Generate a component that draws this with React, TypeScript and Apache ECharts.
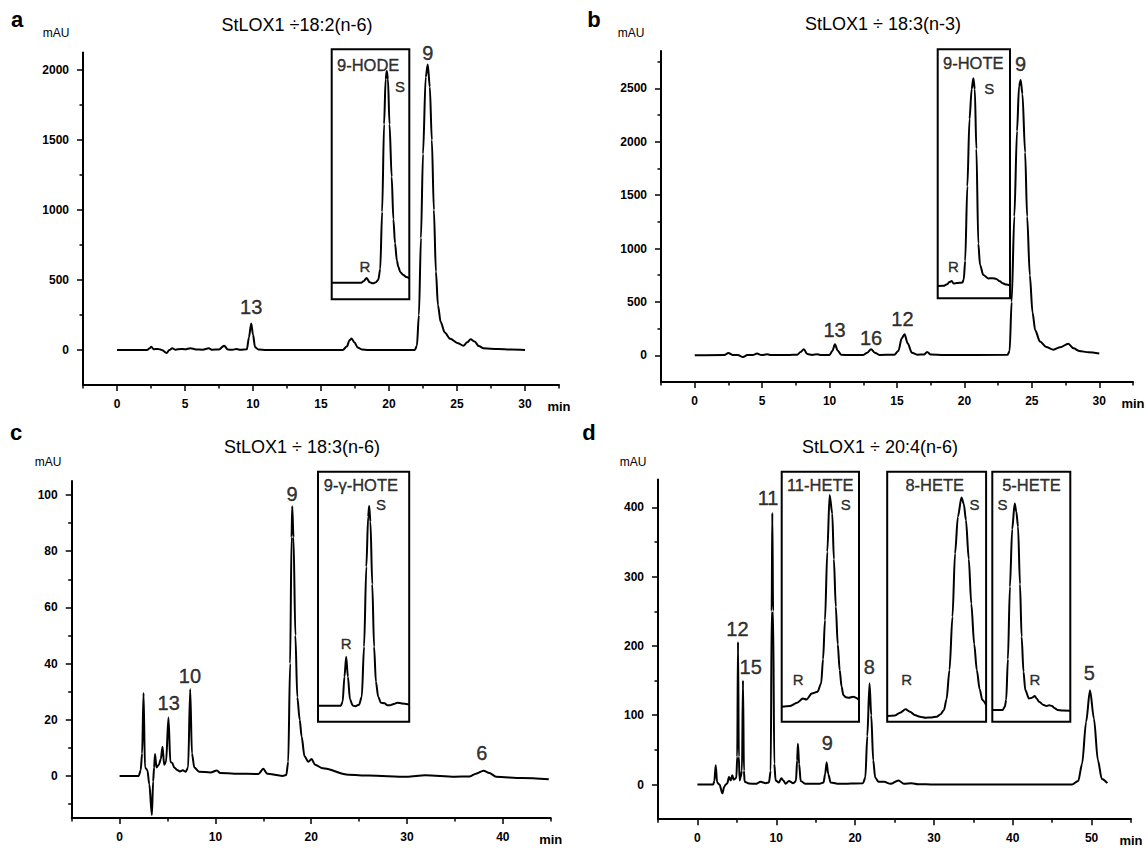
import React, { useEffect, useRef } from 'react';
import * as echarts from 'echarts';

const FONT = '"Liberation Sans", Arial, Helvetica, sans-serif';

// ---------- main chromatogram traces: [time (min), absorbance (mAU)] ----------
const traceA: number[][] = [
  [0, 0], [2.2, 0], [2.4, 12], [2.52, 24], [2.7, 5], [3.0, 8], [3.3, 0], [3.65, -22], [3.85, 0], [4.06, 12],
  [4.3, 2], [4.7, 8], [5.0, 5], [5.4, 13], [5.8, 4], [6.3, 2], [6.75, 12], [7.0, 2], [7.5, 4], [7.88, 31],
  [8.15, 3], [8.5, 2], [8.77, 7], [9.1, 1], [9.55, 5], [9.7, 90], [9.87, 190], [10.0, 110], [10.15, 20], [10.4, 3],
  [11, 0], [16.6, 0], [16.9, 25], [17.1, 70], [17.25, 83], [17.45, 55], [17.7, 18], [18.0, 4], [18.5, 0], [21.9, 0],
  [22.05, 30], [22.2, 250], [22.35, 800], [22.5, 1400], [22.7, 1950], [22.85, 2040], [23.0, 1880], [23.15, 1500],
  [23.3, 1000], [23.45, 560], [23.6, 320], [23.8, 200], [24.1, 125], [24.5, 80], [25.07, 48], [25.47, 30],
  [25.75, 55], [26.0, 76], [26.3, 60], [26.6, 28], [26.95, 12], [28, 7], [29, 3], [30, 0],
];

const traceB: number[][] = [
  [0, 0], [2.2, 3], [2.5, 22], [2.8, 4], [3.2, 2], [3.58, -16], [3.9, 2], [4.3, 3], [4.62, 16], [4.95, 3],
  [5.37, 9], [5.7, 2], [7.0, 3], [7.6, 6], [7.85, 30], [8.09, 56], [8.35, 12], [8.7, 4], [9.1, 9], [9.4, 3],
  [10.0, 4], [10.2, 40], [10.4, 103], [10.6, 45], [10.85, 6], [11.5, 2], [12.5, 3], [12.8, 25], [13.08, 56],
  [13.35, 25], [13.7, 4], [14.8, 5], [15.1, 40], [15.35, 160], [15.56, 197], [15.8, 110], [16.1, 25], [16.5, 6],
  [17.0, 8], [17.24, 31], [17.5, 8], [18.5, 2], [23.2, 5], [23.35, 40], [23.5, 500], [23.7, 1300], [23.9, 2100],
  [24.05, 2520], [24.17, 2578], [24.3, 2450], [24.5, 1900], [24.65, 1300], [24.85, 750], [25.05, 400],
  [25.25, 234], [25.6, 130], [26.06, 78], [26.6, 53], [27.1, 75], [27.7, 109], [28.1, 65], [28.5, 41],
  [29.2, 28], [30, 16],
];

const traceC: number[][] = [
  [0, 0], [2.0, 0], [2.2, 2], [2.35, 8], [2.5, 29.5], [2.65, 3], [2.9, 2], [3.1, -3], [3.37, -13.9], [3.5, -2],
  [3.6, 3], [3.7, 7.8], [3.85, 3], [4.1, 4], [4.3, 6], [4.48, 10.4], [4.65, 4], [4.85, 5], [5.1, 20.8], [5.3, 5],
  [5.5, 4.6], [5.7, 3], [6.0, 2.1], [6.3, 1.6], [6.6, 2], [6.9, 1.5], [7.15, 3], [7.37, 30.9], [7.55, 8], [7.8, 3],
  [8.3, 1.5], [9.5, 1.2], [10.15, 1.9], [10.5, 1.0], [12, 0.8], [14.5, 0.7], [15.0, 2.5], [15.4, 0.8], [17.0, 0],
  [17.4, 0.3], [17.6, 5], [17.8, 40], [17.95, 85], [18.02, 96], [18.15, 85], [18.35, 50], [18.55, 28], [18.8, 20],
  [19.0, 14], [19.3, 7], [19.7, 5], [20.04, 6], [20.4, 4], [21.2, 2.7], [23.9, 0.4], [26, 0.1], [30, -0.3],
  [31.9, 0.2], [35, -0.3], [36.5, -0.2], [37.2, 0.8], [38.0, 1.8], [38.6, 1], [39.3, -0.3], [42, -0.8], [44.8, -1.2],
];

const traceD: number[][] = [
  [0, 0], [2.0, 0], [2.15, 5], [2.32, 28], [2.5, 3], [2.8, 0], [3.17, -12.7], [3.4, -3], [3.59, 0], [3.8, 2],
  [4.0, 11], [4.22, 6], [4.43, 13.5], [4.6, 7], [4.73, 8], [4.94, 10], [5.05, 40], [5.15, 206], [5.25, 40],
  [5.36, 6], [5.49, 11], [5.65, 20], [5.78, 150], [5.9, 20], [5.99, 4], [6.54, 1.5], [7.39, 1], [8.02, 4],
  [8.66, 2], [9.07, 3], [9.3, 20], [9.42, 250], [9.5, 392], [9.6, 250], [9.75, 30], [9.92, 6], [10.34, 3],
  [10.64, 9], [10.9, 6], [11.19, 1], [11.6, 5], [12.17, 2], [12.5, 5], [12.65, 35], [12.75, 59], [12.9, 30],
  [13.1, 5], [13.73, 1], [15.5, 1], [16.0, 3], [16.2, 15], [16.39, 32], [16.6, 15], [16.9, 3], [18, 1],
  [21.0, 2], [21.3, 10], [21.55, 70], [21.83, 146], [22.05, 100], [22.3, 35], [22.55, 10], [22.98, 4],
  [23.68, 4], [24.5, 1], [25.5, 6], [26.2, 1], [27.16, 2], [28, 0.5], [30, 0], [47.5, 0], [48.3, 5],
  [48.8, 30], [49.3, 90], [49.8, 136], [50.3, 95], [50.8, 35], [51.3, 8], [52.0, 2],
];

// ---------- inset traces: [% of inset width, % of inset height] ----------
const insetTraceA: number[][] = [
  [0, 6.6], [38, 6.6], [41, 7.2], [45, 8.5], [49, 6.8], [53, 6.4], [57, 6.8], [60, 7.8], [62.5, 12], [65, 35],
  [67.5, 70], [69.5, 88], [71, 91.3], [72.5, 88], [74.5, 70], [77.3, 49], [79.5, 32], [81.6, 22.4], [84, 15.5],
  [85.8, 13], [88.5, 10.8], [92.3, 9.7], [96, 8.9], [100, 8.4],
];
const insetTraceB: number[][] = [
  [0, 4.9], [8, 5.0], [13, 5.6], [16, 6.5], [19.4, 6.9], [22, 5.9], [26, 6.1], [30, 6.2], [34, 6.3], [36, 7.5],
  [38, 15], [41, 45], [44, 72], [47, 84], [49.3, 88.4], [51.3, 84], [53.5, 60], [56.2, 22], [58.5, 13.5],
  [63, 9.4], [70, 8], [76, 8.1], [81, 7.8], [86, 6.8], [90, 6], [95, 5.5], [100, 5.2],
];
const insetTraceC: number[][] = [
  [0, 6.4], [25, 6.4], [27, 8], [29, 18], [30.9, 26], [32.8, 18], [35, 9], [38, 6.5], [41, 6.2], [45, 6.8],
  [48, 10], [50.5, 30], [53, 62], [55, 82], [56.1, 86.3], [57.5, 80], [59.5, 55], [61.5, 30], [63.5, 16],
  [66, 10], [69, 7.6], [73, 7.4], [76, 6.6], [79, 6.6], [83, 7.1], [87, 7.6], [92, 7.3], [100, 6.9],
];
const insetTraceD11: number[][] = [
  [0, 6], [10.9, 6.3], [20, 7.6], [27.5, 9.3], [32, 8.9], [39, 11.3], [46.4, 12], [51, 15.3], [53.5, 25],
  [56, 40.6], [59, 68], [62, 90.7], [65.4, 83.3], [67.5, 65], [70, 46], [72.5, 31], [75, 20.7], [77.5, 14],
  [79.7, 10.7], [83, 9.8], [86.8, 9.6], [92.5, 10], [96, 9.6], [100, 8.7],
];
const insetTraceD8: number[][] = [
  [0, 2.3], [8, 2.5], [13, 3.6], [18.6, 5], [23, 4], [27.8, 2.7], [33, 2], [38.8, 1.6], [45, 1.7], [50, 2],
  [54, 3], [57.4, 4.7], [60, 9], [63, 20.7], [66, 42], [68.6, 67.3], [71.5, 82], [75.1, 89.7], [77.5, 87],
  [79.6, 80.7], [82.5, 65], [85, 47.3], [88, 31], [90.6, 20.7], [93.5, 13], [96.2, 8.7], [100, 6.7],
];
const insetTraceD5: number[][] = [
  [0, 4.7], [13.2, 4.7], [16, 6], [17.8, 8.7], [20, 25], [22.6, 54], [25.5, 77], [28.7, 87.3], [30.8, 84],
  [33, 78], [35.5, 55], [37.6, 34], [40, 20], [42.3, 12.7], [47, 9.3], [51, 9.6], [54.5, 10.3], [57, 9.2],
  [60, 8], [65, 6.8], [69.5, 6.3], [73, 6.6], [76.5, 6.3], [80, 5.4], [83.6, 4.7], [90, 4.5], [100, 4.4],
];

// ---------- peak labels: [time, mAU at label centre, text] ----------
const peakLabelsA: (number | string)[][] = [[9.87, 307, '13'], [22.85, 2121, '9']];
const peakLabelsB: (number | string)[][] = [[10.37, 234, '13'], [13.08, 159, '16'], [15.4, 337, '12'], [24.17, 2728, '9']];
const peakLabelsC: (number | string)[][] = [[5.13, 26, '13'], [7.34, 35.4, '10'], [18.0, 100.2, '9'], [37.8, 8.2, '6']];
const peakLabelsD: (number | string)[][] = [
  [8.96, 413, '11'], [5.07, 225, '12'], [6.76, 170, '15'], [16.48, 60, '9'], [21.8, 170, '8'], [49.7, 161, '5'],
];

// ---------- inset labels: [x %, y %, text] ----------
const insetTitlesA: (number | string)[][] = [[47, 93.7, '9-HODE']];
const insetMarksA: (number | string)[][] = [[88, 85, 'S'], [42.9, 13, 'R']];
const insetTitlesB: (number | string)[][] = [[49.2, 94.4, '9-HOTE']];
const insetMarksB: (number | string)[][] = [[71.4, 84.3, 'S'], [21.6, 12.7, 'R']];
const insetTitlesC: (number | string)[][] = [[47, 94.7, '9-γ-HOTE']];
const insetMarksC: (number | string)[][] = [[69, 86.7, 'S'], [30.9, 31.4, 'R']];
const insetTitlesD11: (number | string)[][] = [[49.8, 94.7, '11-HETE']];
const insetMarksD11: (number | string)[][] = [[83, 86.7, 'S'], [21.3, 16.7, 'R']];
const insetTitlesD8: (number | string)[][] = [[48.1, 94.7, '8-HETE']];
const insetMarksD8: (number | string)[][] = [[88.2, 86.7, 'S'], [19.6, 16.7, 'R']];
const insetTitlesD5: (number | string)[][] = [[50.3, 94.7, '5-HETE']];
const insetMarksD5: (number | string)[][] = [[13.2, 86.7, 'S'], [54.5, 16.7, 'R']];

// ---------- axis ticks ----------
const xMajorAB = [0, 5, 10, 15, 20, 25, 30];
const xMinorAB = [-2.5, 2.5, 7.5, 12.5, 17.5, 22.5, 27.5, 32.5];
const xMajorC = [0, 10, 20, 30, 40];
const xMinorC = [-5, 5, 15, 25, 35, 45];
const xMajorD = [0, 10, 20, 30, 40, 50];
const xMinorD = [-5, 5, 15, 25, 35, 45, 55];
const yMajorA = [0, 500, 1000, 1500, 2000];
const yMinorA = [250, 750, 1250, 1750];
const yMajorB = [0, 500, 1000, 1500, 2000, 2500];
const yMinorB = [250, 750, 1250, 1750, 2250, 2750];
const yMajorC = [0, 20, 40, 60, 80, 100];
const yMinorC = [-10, 10, 30, 50, 70, 90];
const yMajorD = [0, 100, 200, 300, 400];
const yMinorD = [50, 150, 250, 350];

const titles = ['StLOX1 ÷18:2(n-6)', 'StLOX1 ÷ 18:3(n-3)', 'StLOX1 ÷ 18:3(n-6)', 'StLOX1 ÷ 20:4(n-6)'];
const letters = ['a', 'b', 'c', 'd'];

function buildOption() {
  const panels = [
    { grid: { left: 83, top: 52.5, width: 476, height: 332.5 }, xMin: -2.5, xMax: 32.5, yMin: -250, yMax: 2125,
      xMajor: xMajorAB, xMinor: xMinorAB, yMajor: yMajorA, yMinor: yMinorA, trace: traceA, labels: peakLabelsA,
      title: [297, 25], letter: [17, 19], unit: [56, 33] },
    { grid: { left: 661, top: 51, width: 472, height: 331 }, xMin: -2.5, xMax: 32.5, yMin: -250, yMax: 2850,
      xMajor: xMajorAB, xMinor: xMinorAB, yMajor: yMajorB, yMinor: yMinorB, trace: traceB, labels: peakLabelsB,
      title: [883, 24], letter: [594, 19], unit: [631, 33] },
    { grid: { left: 71.7, top: 481, width: 479, height: 337 }, xMin: -5, xMax: 45, yMin: -15, yMax: 105,
      xMajor: xMajorC, xMinor: xMinorC, yMajor: yMajorC, yMinor: yMinorC, trace: traceC, labels: peakLabelsC,
      title: [302, 447], letter: [16, 432], unit: [48, 462] },
    { grid: { left: 658, top: 479.6, width: 473, height: 339.6 }, xMin: -5, xMax: 55, yMin: -50, yMax: 440,
      xMajor: xMajorD, xMinor: xMinorD, yMajor: yMajorD, yMinor: yMinorD, trace: traceD, labels: peakLabelsD,
      title: [880, 447], letter: [589, 432], unit: [633, 462] },
  ];
  const insets = [
    { grid: { left: 331.7, top: 49.3, width: 77.6, height: 250 }, trace: insetTraceA, titles: insetTitlesA, marks: insetMarksA },
    { grid: { left: 937.7, top: 49.3, width: 72.3, height: 249 }, trace: insetTraceB, titles: insetTitlesB, marks: insetMarksB },
    { grid: { left: 318, top: 471.7, width: 91.2, height: 250 }, trace: insetTraceC, titles: insetTitlesC, marks: insetMarksC },
    { grid: { left: 781.7, top: 471.7, width: 77.3, height: 250 }, trace: insetTraceD11, titles: insetTitlesD11, marks: insetMarksD11 },
    { grid: { left: 887.2, top: 471.7, width: 98.9, height: 250 }, trace: insetTraceD8, titles: insetTitlesD8, marks: insetMarksD8 },
    { grid: { left: 992.3, top: 471.7, width: 78, height: 250 }, trace: insetTraceD5, titles: insetTitlesD5, marks: insetMarksD5 },
  ];

  const axisText = { color: '#000', fontFamily: FONT, fontSize: 12, fontWeight: 'bold' as const };
  const plain = (v: number) => String(v);
  const grid: any[] = [];
  const xAxis: any[] = [];
  const yAxis: any[] = [];
  const series: any[] = [];
  const graphic: any[] = [];

  const lineSeries = (xi: number, yi: number, data: number[][], z = 3) => ({
    type: 'line', xAxisIndex: xi, yAxisIndex: yi, data, showSymbol: false, symbol: 'none',
    smooth: 0.3, smoothMonotone: 'x', lineStyle: { color: '#000', width: 2 }, z, silent: true,
  });
  const textSeries = (xi: number, yi: number, items: (number | string)[][], fontSize: number) => ({
    type: 'scatter', xAxisIndex: xi, yAxisIndex: yi, symbolSize: 0, clip: false, silent: true, z: 6,
    data: items.map((d) => ({ value: [d[0], d[1]], name: String(d[2]) })),
    label: {
      show: true, position: 'inside', formatter: (p: any) => p.name, color: '#000', fontSize, fontFamily: FONT,
      textBorderColor: '#000', textBorderWidth: 0.4,
    },
  });

  panels.forEach((p, i) => {
    grid.push({ ...p.grid, containLabel: false });
    xAxis.push({
      type: 'value', gridIndex: i, min: p.xMin, max: p.xMax, position: 'bottom',
      axisLine: { show: true, onZero: false, lineStyle: { color: '#000', width: 2 } },
      axisTick: { show: true, customValues: p.xMajor, length: 6, lineStyle: { color: '#000', width: 1.5 } },
      axisLabel: { show: true, customValues: p.xMajor, margin: 13, formatter: plain, ...axisText },
      splitLine: { show: false },
      name: 'min', nameLocation: 'end', nameGap: 0,
      nameTextStyle: { ...axisText, fontSize: 13, align: 'center', verticalAlign: 'top', padding: [15, 0, 0, 0] },
    });
    xAxis.push({
      type: 'value', gridIndex: i, min: p.xMin, max: p.xMax, position: 'bottom',
      axisLine: { show: false, onZero: false },
      axisTick: { show: true, customValues: p.xMinor, length: 3.5, lineStyle: { color: '#000', width: 1.5 } },
      axisLabel: { show: false }, splitLine: { show: false },
    });
    yAxis.push({
      type: 'value', gridIndex: i, min: p.yMin, max: p.yMax, position: 'left',
      axisLine: { show: true, onZero: false, lineStyle: { color: '#000', width: 2 } },
      axisTick: { show: true, customValues: p.yMajor, length: 6, lineStyle: { color: '#000', width: 1.5 } },
      axisLabel: { show: true, customValues: p.yMajor, margin: 14, formatter: plain, ...axisText },
      splitLine: { show: false },
    });
    yAxis.push({
      type: 'value', gridIndex: i, min: p.yMin, max: p.yMax, position: 'left',
      axisLine: { show: false, onZero: false },
      axisTick: { show: true, customValues: p.yMinor, length: 3.5, lineStyle: { color: '#000', width: 1.5 } },
      axisLabel: { show: false }, splitLine: { show: false },
    });
    series.push(lineSeries(2 * i, 2 * i, p.trace));
    series.push(textSeries(2 * i, 2 * i, p.labels, 20));

    graphic.push({
      type: 'text', x: p.title[0], y: p.title[1],
      style: { text: titles[i], fill: '#000', font: `18px ${FONT}`, align: 'center', verticalAlign: 'middle', textAlign: 'center', textVerticalAlign: 'middle' },
    });
    graphic.push({
      type: 'text', x: p.letter[0], y: p.letter[1],
      style: { text: letters[i], fill: '#000', font: `bold 22px ${FONT}`, align: 'center', verticalAlign: 'middle', textAlign: 'center', textVerticalAlign: 'middle' },
    });
    graphic.push({
      type: 'text', x: p.unit[0], y: p.unit[1],
      style: { text: 'mAU', fill: '#000', font: `12px ${FONT}`, align: 'center', verticalAlign: 'middle', textAlign: 'center', textVerticalAlign: 'middle' },
    });
  });

  insets.forEach((ins, j) => {
    const gi = panels.length + j;
    const ai = 2 * panels.length + j;
    grid.push({ ...ins.grid, show: true, borderColor: '#000', borderWidth: 2, backgroundColor: '#fff', containLabel: false });
    xAxis.push({ type: 'value', gridIndex: gi, min: 0, max: 100, show: false });
    yAxis.push({ type: 'value', gridIndex: gi, min: 0, max: 100, show: false });
    series.push(lineSeries(ai, ai, ins.trace, 4));
    series.push(textSeries(ai, ai, ins.titles, 16.5));
    series.push(textSeries(ai, ai, ins.marks, 15));
  });

  return { animation: false, backgroundColor: '#fff', grid, xAxis, yAxis, series, graphic };
}

export default function App() {
  const ref = useRef<HTMLDivElement>(null);
  useEffect(() => {
    if (!ref.current) return;
    const chart = echarts.init(ref.current, null, { renderer: 'svg' });
    chart.setOption(buildOption() as any);
    return () => chart.dispose();
  }, []);
  return (
    <div
      ref={ref}
      style={{ position: 'fixed', left: 0, top: 0, width: 1148, height: 848, background: '#fff' }}
    />
  );
}
